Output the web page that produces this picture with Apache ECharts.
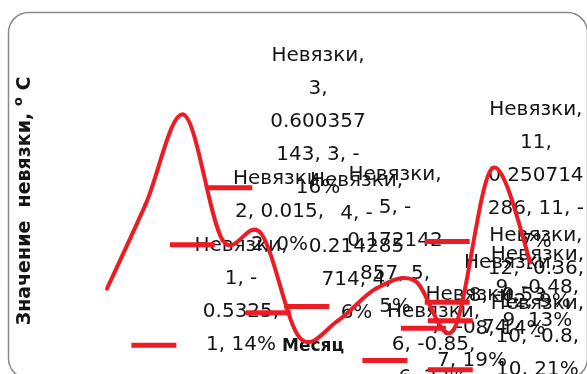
<!DOCTYPE html>
<html><head><meta charset="utf-8">
<script src="https://cdn.jsdelivr.net/npm/echarts@6/dist/echarts.min.js"></script>
<style>html,body{margin:0;padding:0;background:#fff}#c{width:587px;height:374px}</style>
</head><body><div id="c"></div>
<script>
// ---- data ----
const seriesName = 'Невязки';
const months = [1, 2, 3, 4, 5, 6, 7, 8, 9, 10, 11, 12];
const residuals = [-0.5325, 0.015, 0.600357143, -0.214285714, -0.172142857, -0.85,
                   -0.74, -0.53, -0.48, -0.8, 0.250714286, -0.36];
const xAxisTitle = 'Месяц';
const yAxisTitleMain = 'Значение  невязки, ';
const yAxisTitleSup = 'o';
const yAxisTitleUnit = 'С';

// ---- style ----
const RED = '#ED1C24';
const TXT = '#151515';
const FONT_SIZE = 20, FONT_FAMILY = 'DejaVu Sans', LINE_H = 33, WRAP_W = 99;
const TENSION = 1 / 6;

const total = residuals.reduce((a, b) => a + b, 0);
const measureCtx = document.createElement('canvas').getContext('2d');
measureCtx.font = FONT_SIZE + 'px "' + FONT_FAMILY + '"';
const W = s => measureCtx.measureText(s).width;

function wrapLines(text, maxW) {
  const words = text.split(' ');
  const lines = []; let cur = '';
  for (let w of words) {
    const cand = cur ? cur + ' ' + w : w;
    if (W(cand) <= maxW) { cur = cand; continue; }
    if (w[0] === '-' && W((cur ? cur + ' ' : '') + '-') <= maxW) {
      lines.push((cur ? cur + ' ' : '') + '-'); w = w.slice(1); cur = '';
    } else if (cur) { lines.push(cur); cur = ''; }
    while (W(w) > maxW) {
      let k = w.length - 1;
      while (k > 1 && W(w.slice(0, k)) > maxW) k--;
      lines.push(w.slice(0, k)); w = w.slice(k);
    }
    cur = w;
  }
  if (cur) lines.push(cur);
  return lines;
}

const labelInfo = months.map((m, i) => {
  const v = residuals[i];
  const pct = Math.round(v / total * 100);
  const txt = seriesName + ', ' + m + ', ' + String(v) + ', ' + m + ', ' + (pct === 0 ? 0 : pct) + '%';
  const lines = wrapLines(txt, WRAP_W);
  const w = Math.max(...lines.map(W));
  return { lines, w };
});

const chart = echarts.init(document.getElementById('c'), null, { renderer: 'canvas' });
chart.setOption({
  animation: false,
  grid: { left: 68.5, right: 18, top: 53.4, bottom: 35 },
  xAxis: { type: 'value', min: 0, max: 13, show: false },
  yAxis: { type: 'value', min: -0.86, max: 1.0, show: false },
  graphic: [
    { type: 'rect', shape: { x: 8.5, y: 12.5, width: 579, height: 366, r: 20 },
      style: { fill: 'none', stroke: '#8a8a8a', lineWidth: 1.5 }, silent: true },
    { type: 'text', x: 25, y: 201, rotation: Math.PI / 2,
      style: { text: '{t|' + yAxisTitleMain + '}{s|' + yAxisTitleSup + '}{t| ' + yAxisTitleUnit + '}',
        align: 'center', verticalAlign: 'middle',
        rich: { t: { fontSize: 19, fontWeight: 'bold', fontFamily: FONT_FAMILY, fill: TXT },
                s: { fontSize: 13, fontWeight: 'bold', fontFamily: FONT_FAMILY, fill: TXT, padding: [0, 0, 12, 0] } } } },
    { type: 'text', x: 313, y: 347,
      style: { text: xAxisTitle, align: 'center', verticalAlign: 'middle',
        fontSize: 17, fontWeight: 'bold', fontFamily: FONT_FAMILY, fill: TXT } }
  ],
  series: [
    {
      // data labels with legend keys
      type: 'custom', z: 1, clip: false, silent: true,
      data: months.map((m, i) => [m, residuals[i], i]),
      renderItem: function (params, api) {
        const p = api.coord([api.value(0), api.value(1)]);
        const info = labelInfo[api.value(2)];
        let cx = p[0] + 134;
        if (cx + info.w / 2 > 584) cx = 584 - info.w / 2;
        const cy = p[1] + 7;
        const n = info.lines.length;
        const children = info.lines.map((ln, k) => ({
          type: 'text',
          style: { text: ln, x: cx, y: cy + (k - (n - 1) / 2) * LINE_H, align: 'center', verticalAlign: 'middle',
                   fontSize: FONT_SIZE, fontFamily: FONT_FAMILY, fill: TXT }
        }));
        const lastY = cy + ((n - 1) / 2) * LINE_H;
        const keyRight = cx - info.w / 2 - 18;
        children.push({ type: 'rect', shape: { x: keyRight - 45, y: lastY - 2.5, width: 45, height: 5 },
                        style: { fill: RED } });
        return { type: 'group', children };
      }
    },
    {
      // smoothed residual line (Catmull-Rom style bezier through each data point)
      type: 'custom', name: seriesName, z: 2, clip: false, silent: true,
      data: months.map((m, i) => [m, residuals[i], i]),
      renderItem: function (params, api) {
        const i = api.value(2);
        if (i >= months.length - 1) return null;
        const pt = j => {
          j = Math.max(0, Math.min(months.length - 1, j));
          return api.coord([months[j], residuals[j]]);
        };
        const p0 = pt(i - 1), p1 = pt(i), p2 = pt(i + 1), p3 = pt(i + 2);
        return {
          type: 'bezierCurve',
          shape: {
            x1: p1[0], y1: p1[1], x2: p2[0], y2: p2[1],
            cpx1: p1[0] + (p2[0] - p0[0]) * TENSION, cpy1: p1[1] + (p2[1] - p0[1]) * TENSION,
            cpx2: p2[0] - (p3[0] - p1[0]) * TENSION, cpy2: p2[1] - (p3[1] - p1[1]) * TENSION
          },
          style: { stroke: RED, lineWidth: 4, fill: null, lineCap: 'round' }
        };
      }
    }
  ]
});
</script></body></html>
